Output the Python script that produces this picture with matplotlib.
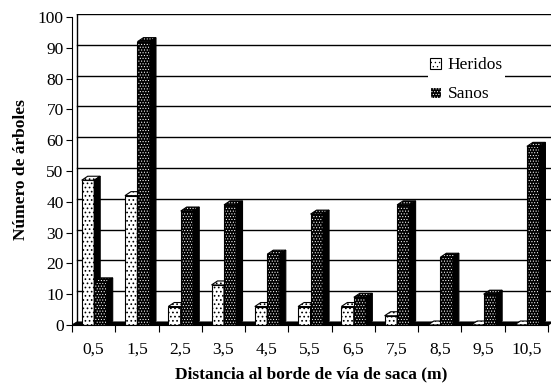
import numpy as np
import matplotlib.pyplot as plt
from matplotlib.patches import Patch

# distancias (m) y numero de arboles
cats = ['0,5', '1,5', '2,5', '3,5', '4,5', '5,5', '6,5', '7,5', '8,5', '9,5', '10,5']
heridos = [47, 42, 6, 13, 6, 6, 6, 3, 0, 0, 0]
sanos = [14, 92, 37, 39, 23, 36, 9, 39, 22, 10, 58]

plt.rcParams['font.family'] = ['Liberation Serif', 'DejaVu Serif']
plt.rcParams['font.size'] = 12.5

W, H = 557, 392
fig = plt.figure(figsize=(W / 100, H / 100), dpi=100)
ax = fig.add_axes([72 / W, 67 / H, 479 / W, 311 / H])

pxx = 476 / 11.0   # pixels per category
pxy = 308 / 100.0  # pixels per unit
ax.set_xlim(0, 11 + 3 / pxx)
ax.set_ylim(0, 100 + 3 / pxy)

wdx, wdy = 5 / pxx, 3 / pxy     # profundidad de la pared
bdx, bdy = 6 / pxx, 4 / pxy     # profundidad de las barras
bw = 12.5 / pxx
off = 9.7 / pxx
n = len(cats)
xs = np.arange(n)

# pared, suelo y rejilla
for v in range(10, 101, 10):
    ax.plot([wdx, n + wdx], [v + wdy, v + wdy], color='black', lw=1.0, zorder=1)
ax.plot([wdx, wdx], [wdy, 100 + wdy], color='black', lw=1.0, zorder=1)
ax.plot([n + wdx, n + wdx], [wdy, 100 + wdy], color='black', lw=1.0, zorder=1)
ax.fill([0, n, n + wdx, wdx], [0, 0, wdy, wdy], facecolor='black', edgecolor='black', lw=0.8, zorder=1)

LIGHT = '....'
DARK = '......'


def bar3d(x0, h, z, dark):
    top_x = [x0, x0 + bw, x0 + bw + bdx, x0 + bdx]
    top_y = [h, h, h + bdy, h + bdy]
    if dark:
        plt.rcParams['hatch.linewidth'] = 0.45
        ax.bar(x0, h, width=bw, bottom=0, align='edge', color='black', edgecolor='white',
               hatch=DARK, linewidth=0, zorder=z)
        ax.fill(top_x, top_y, facecolor='black', edgecolor='white', hatch=DARK, lw=0, zorder=z)
        ax.bar(x0, h, width=bw, align='edge', fill=False, edgecolor='black', linewidth=0.8, zorder=z + 0.01)
        ax.fill(top_x, top_y, fill=False, edgecolor='black', lw=0.8, zorder=z + 0.01)
    else:
        plt.rcParams['hatch.linewidth'] = 0.7
        ax.bar(x0, h, width=bw, align='edge', color='white', edgecolor='black',
               hatch=LIGHT, linewidth=0.8, zorder=z)
        ax.fill(top_x, top_y, facecolor='white', edgecolor='black', hatch=LIGHT, lw=0.8, zorder=z)
    ax.fill([x0 + bw, x0 + bw + bdx, x0 + bw + bdx, x0 + bw], [0, bdy, h + bdy, h],
            facecolor='black', edgecolor='black', lw=0.8, zorder=z)


for i in range(n):
    bar3d(xs[i] + off, heridos[i], 3 + i * 0.1, False)
    bar3d(xs[i] + off + bw, sanos[i], 3 + i * 0.1 + 0.05, True)

for s in ['top', 'right']:
    ax.spines[s].set_visible(False)
ax.spines['left'].set_bounds(0, 100)
ax.spines['bottom'].set_bounds(0, n)
ax.spines['left'].set_zorder(10)
ax.spines['bottom'].set_zorder(10)

ax.set_yticks(range(0, 101, 10))
ax.tick_params(axis='y', direction='out', length=4, width=0.8, pad=2)
ax.set_xticks(np.arange(n + 1))
ax.set_xticklabels([])
ax.set_xticks(xs + 0.5, minor=True)
ax.set_xticklabels(cats, minor=True)
ax.tick_params(axis='x', which='major', direction='out', length=5, width=0.8)
ax.tick_params(axis='x', which='minor', length=0, pad=12)

ax.set_ylabel('Número de árboles', fontweight='bold', fontsize=12.5, labelpad=6)
ax.set_xlabel('Distancia al borde de vía de saca (m)', fontweight='bold', fontsize=12.5, labelpad=6)

plt.rcParams['hatch.linewidth'] = 0.7
h1 = Patch(facecolor='white', edgecolor='black', hatch=LIGHT, lw=0.8)
plt.rcParams['hatch.linewidth'] = 0.45
h2 = Patch(facecolor='black', edgecolor='white', hatch=DARK, lw=0.8)
leg = ax.legend([h1, h2], ['Heridos', 'Sanos'], loc='upper left',
                bbox_to_anchor=(419 / W, 1 - 46 / H), bbox_transform=fig.transFigure,
                frameon=True, fancybox=False, framealpha=1, facecolor='white', edgecolor='none',
                handlelength=0.6, handleheight=0.6, handletextpad=0.4, labelspacing=0.75,
                borderpad=0.15)
leg.set_zorder(20)

fig.savefig('out.png', dpi=100)
